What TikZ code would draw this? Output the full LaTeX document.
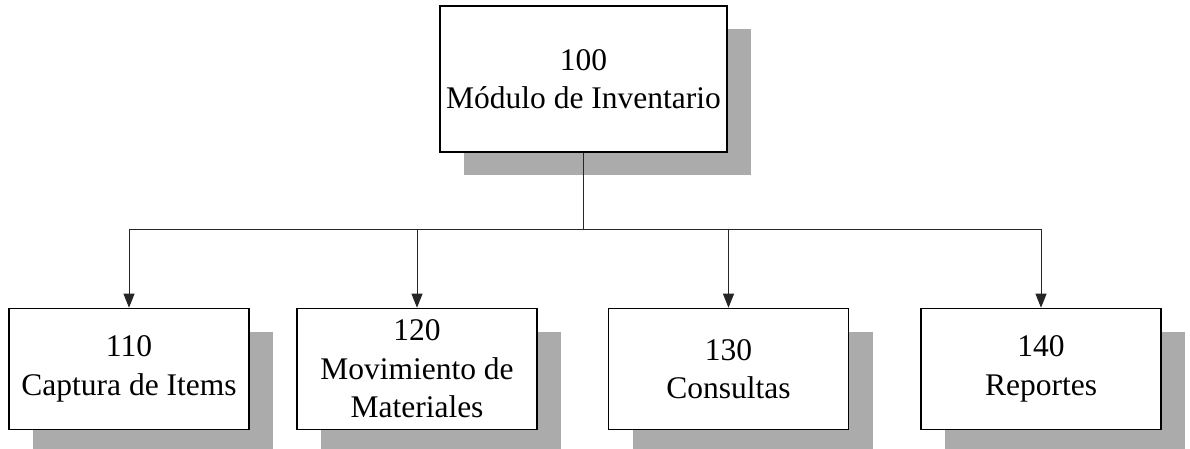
\documentclass[tikz,border=0pt]{standalone}
\usepackage{fontspec}
\setmainfont{Liberation Serif}
\usetikzlibrary{arrows.meta,shadows}
\definecolor{shadowgray}{HTML}{ABABAB}
\tikzset{
  box/.style={draw=black, line width=1.6pt, fill=white, align=center,
    inner sep=0pt, font=\fontsize{31.5}{38.5}\selectfont,
    drop shadow={shadow xshift=24pt, shadow yshift=-23pt, fill=shadowgray, opacity=1}},
  topbox/.style={box, minimum width=287pt, minimum height=146pt},
  subbox/.style={box, minimum width=240pt, minimum height=121pt},
  conn/.style={draw=black!85, line width=0.9pt},
  arr/.style={conn, -{Triangle[length=14pt,width=11pt]}}
}
\begin{document}
\begin{tikzpicture}[x=1pt,y=-1pt]
  \useasboundingbox (0,0) rectangle (1190,449);
  \node[topbox] (top) at (583.5,79) {100\\Módulo de Inventario};
  \node[subbox] (b1) at (129,369) {110\\Captura de Items};
  \node[subbox] (b2) at (417,369) {120\\Movimiento de\\Materiales};
  \node[subbox] (b3) at (728.5,369) {130\\Consultas};
  \node[subbox] (b4) at (1041,369) {140\\Reportes};
  \coordinate (bus) at (583.5,229);
  \draw[conn] (top.south) -- (bus);
  \draw[conn] (b1.north |- bus) -- (b4.north |- bus);
  \foreach \b in {b1,b2,b3,b4} {
    \draw[arr] (\b.north |- bus) -- (\b.north);
  }
\end{tikzpicture}
\end{document}
